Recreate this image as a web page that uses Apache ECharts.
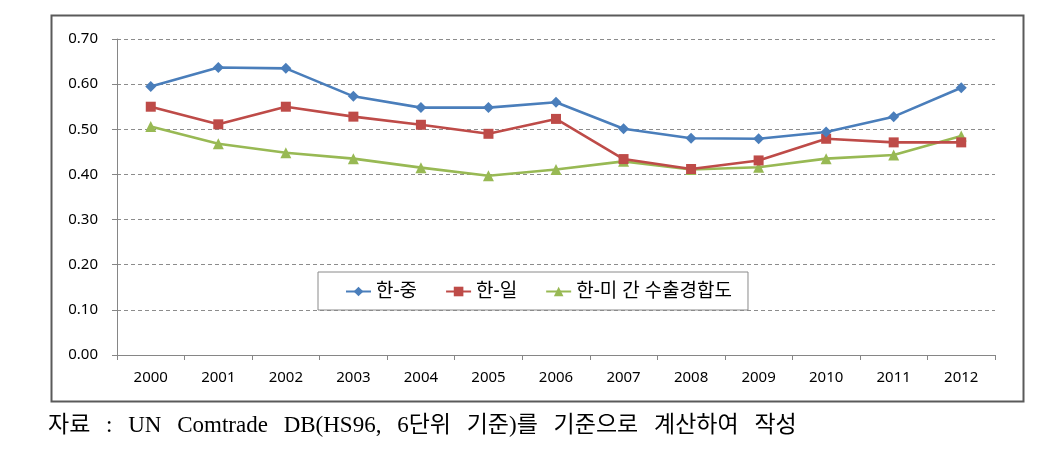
<!DOCTYPE html>
<html>
<head>
<meta charset="utf-8">
<script src="https://cdn.jsdelivr.net/npm/echarts@6/dist/echarts.min.js"></script>
<style>
html,body{margin:0;padding:0;background:#fff;}
#wrap{position:relative;width:1057px;height:471px;}
#chart{width:1057px;height:471px;}
#caption{position:absolute;left:48px;top:410px;font-family:"Liberation Serif","Noto Sans CJK KR",serif;font-size:23px;color:#000;white-space:pre;word-spacing:10px;line-height:29px;}
</style>
</head>
<body>
<div id="wrap">
<div id="chart"></div>
<div id="caption"></div>
</div>
<script>
const categories = ['2000','2001','2002','2003','2004','2005','2006','2007','2008','2009','2010','2011','2012'];
const seriesNames = ['한-중', '한-일', '한-미 간 수출경합도'];
const koreaChina = [0.595, 0.637, 0.635, 0.573, 0.548, 0.548, 0.560, 0.501, 0.480, 0.479, 0.494, 0.528, 0.592];
const koreaJapan = [0.550, 0.511, 0.550, 0.528, 0.510, 0.490, 0.523, 0.434, 0.412, 0.431, 0.479, 0.471, 0.471];
const koreaUS = [0.506, 0.468, 0.448, 0.435, 0.415, 0.397, 0.411, 0.429, 0.411, 0.416, 0.435, 0.443, 0.485];
const captionText = '자료 : UN Comtrade DB(HS96, 6단위 기준)를 기준으로 계산하여 작성';

const colors = ['#4a7ebb', '#be4b48', '#98b954'];
const symbols = ['diamond', 'rect', 'triangle'];
const sizes = [11, 10, 11];
const dataSets = [koreaChina, koreaJapan, koreaUS];

document.getElementById('caption').textContent = captionText;

const chart = echarts.init(document.getElementById('chart'), null, {renderer: 'canvas'});
const font = '"Noto Sans", "Noto Sans CJK KR", sans-serif';

chart.setOption({
  animation: false,
  backgroundColor: '#fff',
  grid: {left: 117, right: 62, top: 39, bottom: 116, containLabel: false},
  xAxis: {
    type: 'category',
    data: categories,
    boundaryGap: true,
    axisLine: {lineStyle: {color: '#868686', width: 1}},
    axisTick: {show: true, alignWithLabel: false, length: 5, lineStyle: {color: '#868686'}},
    axisLabel: {color: '#000', fontSize: 15, fontFamily: font, margin: 15}
  },
  yAxis: {
    type: 'value',
    min: 0, max: 0.7, interval: 0.1,
    axisLine: {show: true, lineStyle: {color: '#868686', width: 1}},
    axisTick: {show: true, length: 5, lineStyle: {color: '#868686'}},
    axisLabel: {color: '#000', fontSize: 15, fontFamily: font, margin: 19,
      formatter: v => v.toFixed(2)},
    splitLine: {show: true, lineStyle: {color: '#8c8c8c', type: [4, 3], width: 1}}
  },
  legend: {
    left: 318, top: 272,
    padding: [10, 16, 9, 27],
    borderColor: '#8a8a8a', borderWidth: 1,
    backgroundColor: '#fff',
    itemWidth: 25, itemHeight: 12, itemGap: 28,
    textStyle: {color: '#000', fontSize: 19, fontFamily: font},
    data: seriesNames
  },
  graphic: [
    {type: 'rect', left: 49, top: 13, shape: {width: 972, height: 386},
      style: {fill: 'none', stroke: '#5a5a5a', lineWidth: 2}, z: -1, silent: true}
  ],
  series: seriesNames.map((n, i) => ({
    name: n,
    type: 'line',
    data: dataSets[i],
    symbol: symbols[i],
    symbolSize: sizes[i],
    showSymbol: true,
    lineStyle: {color: colors[i], width: 2.6},
    itemStyle: {color: colors[i]},
    z: 3 - i
  }))
});
</script>
</body>
</html>
